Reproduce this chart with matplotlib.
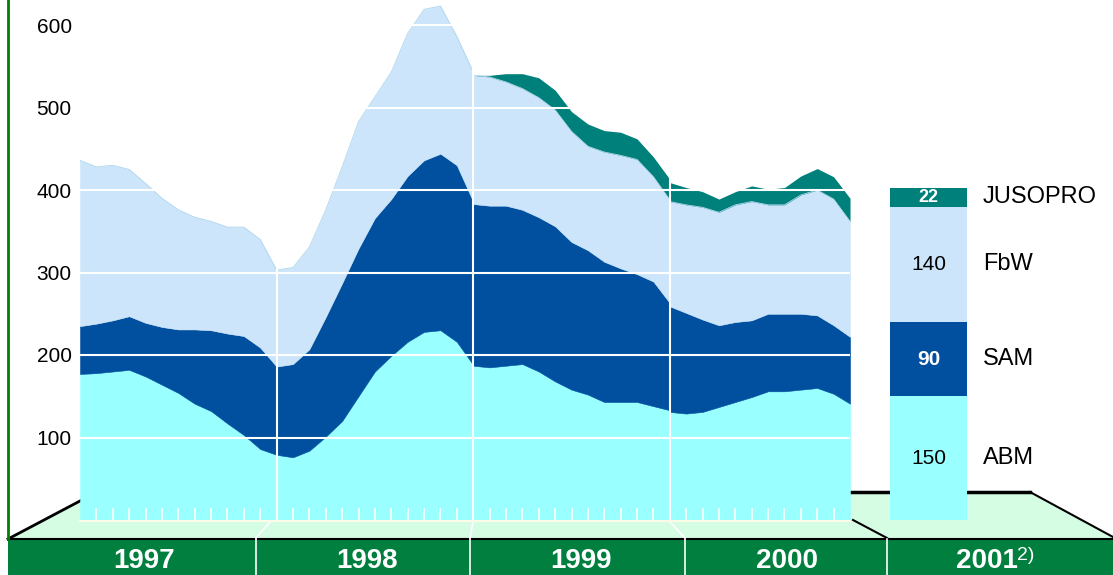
"""
Teilnehmer in Maßnahmen 1997-2000 (monatlich) und Planung 2001
Stacked area chart with a 2001 stacked bar on a green pseudo-3D base.
"""

import numpy as np
import matplotlib
matplotlib.use("Agg")
import matplotlib.pyplot as plt
from matplotlib.patches import Polygon, Rectangle

plt.rcParams["font.family"] = ["Liberation Sans", "DejaVu Sans"]

# ---- data ----
years = [1997, 1998, 1999, 2000]
points_per_year = [13, 13, 13, 12]

abm = [
    177, 178, 180, 182, 174, 164, 154, 141, 132, 117, 103, 86, 79,
    79, 76, 84, 101, 120, 150, 180, 199, 216, 228, 230, 216, 188,
    187, 185, 187, 189, 180, 168, 158, 152, 143, 143, 143, 138, 133,
    131, 129, 131, 137, 143, 149, 156, 156, 158, 160, 153, 141,
]
sam = [
    58, 60, 62, 65, 65, 70, 77, 90, 98, 109, 120, 123, 107,
    107, 113, 123, 145, 167, 179, 186, 190, 201, 208, 214, 214, 198,
    196, 196, 194, 187, 187, 188, 179, 175, 170, 162, 155, 151, 130,
    128, 122, 112, 99, 97, 93, 94, 94, 92, 88, 83, 81,
]
fbw = [
    201, 190, 188, 178, 169, 156, 145, 136, 132, 129, 132, 131, 117,
    117, 117, 124, 130, 141, 154, 147, 154, 173, 183, 179, 156, 157,
    156, 156, 150, 147, 145, 141, 134, 126, 133, 137, 139, 127, 125,
    127, 131, 136, 137, 142, 144, 132, 132, 144, 152, 153, 140,
]
jusopro = [
    0, 0, 0, 0, 0, 0, 0, 0, 0, 0, 0, 0, 0,
    0, 0, 0, 0, 0, 0, 0, 0, 0, 0, 0, 0, 0,
    0, 2, 10, 18, 24, 24, 24, 27, 26, 28, 25, 24, 25,
    23, 21, 19, 16, 16, 19, 19, 21, 23, 26, 27, 28,
]

series_names = ["ABM", "SAM", "FbW", "JUSOPRO"]
plan_2001 = [150, 90, 140, 22]
yticks = [100, 200, 300, 400, 500, 600]
band_labels = ["1997", "1998", "1999", "2000", "2001"]

# ---- style ----
C_ABM = "#99ffff"
C_SAM = "#00509f"
C_FBW = "#cce5fa"
C_JUS = "#00807b"
colors = [C_ABM, C_SAM, C_FBW, C_JUS]
FLOOR = "#d5fde3"
BAND = "#007f3e"

W, H = 1113, 575
fig = plt.figure(figsize=(W / 100, H / 100), dpi=100)

# background axes in pixel units for the base decoration
bg = fig.add_axes([0, 0, 1, 1], zorder=0)
bg.set_xlim(0, W)
bg.set_ylim(H, 0)
bg.axis("off")

bg.add_patch(Polygon([(8, 539), (97, 492), (1030, 492), (1113, 537), (1113, 539)],
                     closed=True, fc=FLOOR, ec="none"))
bg.plot([8, 97], [539, 492], color="black", lw=2)
bg.plot([97, 1030], [492, 492], color="black", lw=2.5)
bg.plot([1030, 1113], [492, 537], color="black", lw=1.5)
bg.add_patch(Rectangle((8, 539), W - 8, H - 539, fc=BAND, ec="none"))
bg.plot([8, W], [538.5, 538.5], color="black", lw=1.5)
bg.plot([8, 8], [0, 539], color="#008000", lw=2)

# floor slants and band separators
for x0, x1 in [(270, 256), (473, 470), (670, 685)]:
    bg.plot([x0, x1], [522, 538], color="white", lw=1.2)
    bg.plot([x1, x1], [539, H], color="white", lw=1.2)
bg.plot([853, 887], [520, 538], color="black", lw=1.5)
bg.plot([887, 887], [539, H], color="white", lw=1.2)

label_x = [144, 367, 581, 787, 987]
for lx, lab in zip(label_x, band_labels):
    bg.text(lx, 561, lab, color="white", fontsize=20, fontweight="bold",
            ha="center", va="center")
bg.text(1017, 555, "2)", color="white", fontsize=14, ha="left", va="center")

# main data axes
px_per_year = 196.6
ax = fig.add_axes([80 / W, (H - 520) / H, (W - 80) / W, 520 / H], zorder=1)
ax.set_facecolor("none")
ax.set_xlim(1997, 1997 + (W - 80) / px_per_year)
ax.set_ylim(0, 520 / 0.825)
for s in ax.spines.values():
    s.set_visible(False)
ax.set_xticks([])
ax.set_yticks(yticks)
ax.set_yticklabels([str(v) for v in yticks])
ax.tick_params(axis="y", length=0, pad=6, labelsize=15)

layers = [np.array(abm), np.array(sam), np.array(fbw), np.array(jusopro)]
cum = np.cumsum(np.vstack([np.zeros(len(abm))] + layers), axis=0)

start = 0
x_end = 1997
for yr, n in zip(years, points_per_year):
    x = yr + np.arange(n) / 12
    sl = slice(start, start + n)
    for i, c in enumerate(colors[:3]):
        ax.fill_between(x, cum[i][sl], cum[i + 1][sl], color=c, lw=0.4, ec=c)
    ax.plot(x, cum[3][sl], color="#b0d8ee", lw=0.6)
    jus_seg = np.array(jusopro[sl])
    if jus_seg.any():
        ax.fill_between(x, cum[3][sl], cum[4][sl], color=C_JUS, lw=0)
    start += n
    x_end = x[-1]

# grid, month ticks, bottom edge
ax.hlines(yticks, 1997, x_end, colors="white", lw=1.5, zorder=3)
ax.vlines(years[1:], 0, 630, colors="white", lw=1.5, zorder=3)
month_x = [yr + k / 12 for yr in years for k in range(1, 12) if yr + k / 12 < x_end - 1e-6]
ax.vlines(month_x, 0, 14, colors="white", lw=1.2, zorder=3)
ax.plot([1997, x_end], [-1.5, -1.5], color="#fbfbe8", lw=1.5, clip_on=False, zorder=3)

# 2001 plan bar
bar_x = 2001.316
bar_w = 0.392
bottom = 0
txt_col = ["black", "white", "black", "white"]
txt_wt = ["normal", "bold", "normal", "bold"]
txt_size = [15, 15, 15, 13]
for v, c, name, tc, tw, ts in zip(plan_2001, colors, series_names, txt_col, txt_wt, txt_size):
    ax.bar(bar_x, v, width=bar_w, bottom=bottom, color=c, lw=0)
    mid = bottom + v / 2
    ax.text(bar_x, mid, str(v), color=tc, fontweight=tw, fontsize=ts,
            ha="center", va="center")
    ax.text(bar_x + bar_w / 2 + 0.08, mid, name, fontsize=17, ha="left", va="center")
    bottom += v

fig.savefig("out.png", dpi=100)
